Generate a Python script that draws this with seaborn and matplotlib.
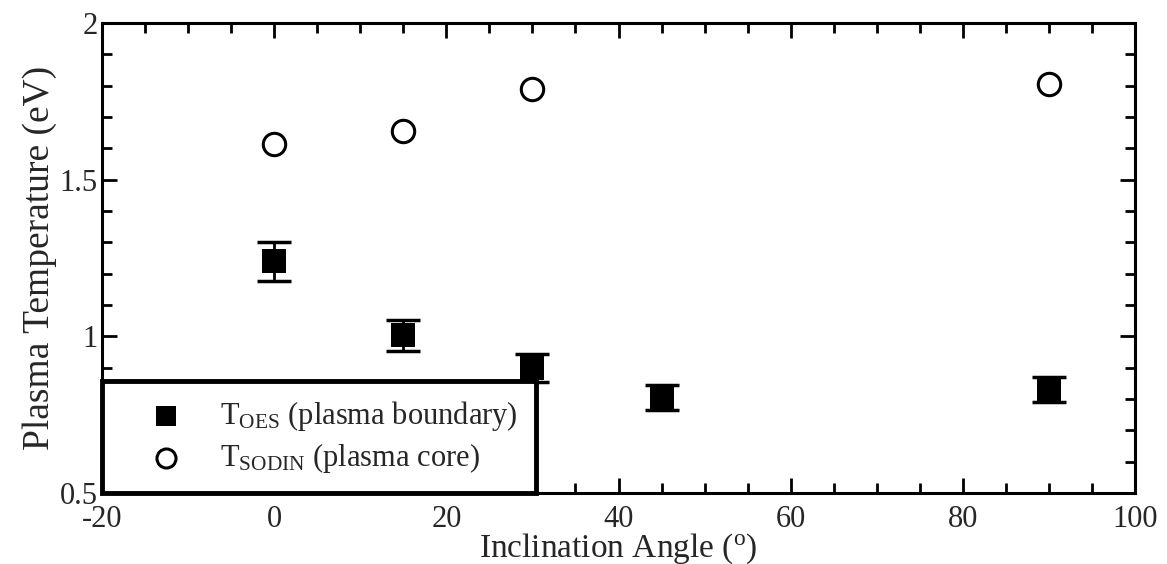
import matplotlib
matplotlib.use("Agg")
import matplotlib.pyplot as plt
import seaborn as sns
import pandas as pd
from matplotlib.ticker import MultipleLocator

# Data
oes_angle = [0, 15, 30, 45, 90]
oes_temp = [1.24, 1.003, 0.90, 0.805, 0.83]
oes_err = [0.062, 0.049, 0.045, 0.04, 0.04]
sodin_angle = [0, 15, 30, 90]
sodin_temp = [1.615, 1.655, 1.79, 1.805]

oes_label = r"T$_{\rm OES}$ (plasma boundary)"
sodin_label = r"T$_{\rm SODIN}$ (plasma core)"
x_label = r"Inclination Angle ($^{\rm o}$)"
y_label = "Plasma Temperature (eV)"
y_ticks = [0.5, 1, 1.5, 2]
y_ticklabels = ["0.5", "1", "1.5", "2"]

sns.set_style("ticks")
plt.rcParams["font.family"] = ["Liberation Serif", "DejaVu Serif"]
plt.rcParams["mathtext.fontset"] = "custom"
plt.rcParams["mathtext.rm"] = "Liberation Serif"
plt.rcParams["mathtext.it"] = "Liberation Serif:italic"
plt.rcParams["axes.unicode_minus"] = False

fig = plt.figure(figsize=(11.67, 5.64), dpi=100)
ax = fig.add_axes([0.0874, 0.1259, 0.9726 - 0.0874, 0.9592 - 0.1259])

df_oes = pd.DataFrame({"angle": oes_angle, "temp": oes_temp})
df_sod = pd.DataFrame({"angle": sodin_angle, "temp": sodin_temp})

ax.errorbar(oes_angle, oes_temp, yerr=oes_err, fmt="none", ecolor="black",
            elinewidth=2, capsize=12, capthick=2.5, zorder=2)
sns.scatterplot(data=df_oes, x="angle", y="temp", marker="s", s=300,
                color="black", edgecolor="black", linewidth=0, ax=ax,
                label=oes_label, zorder=3)
sns.scatterplot(data=df_sod, x="angle", y="temp", marker="o", s=260,
                facecolor="white", edgecolor="black", linewidth=2.2, ax=ax,
                label=sodin_label, zorder=3)

ax.set_xlim(-20, 100)
ax.set_ylim(0.5, 2)
ax.xaxis.set_major_locator(MultipleLocator(20))
ax.xaxis.set_minor_locator(MultipleLocator(5))
ax.yaxis.set_minor_locator(MultipleLocator(0.1))
ax.set_yticks(y_ticks)
ax.set_yticklabels(y_ticklabels)
for t in ax.get_yticklabels():
    t.set_verticalalignment("center_baseline")

ax.tick_params(which="both", direction="in", top=True, right=True,
               color="black", labelsize=22)
ax.tick_params(axis="y", pad=3)
ax.tick_params(axis="x", pad=9)
ax.tick_params(which="major", length=11, width=2)
ax.tick_params(which="minor", length=7, width=2)
for sp in ax.spines.values():
    sp.set_linewidth(2.2)
    sp.set_color("black")
    sp.set_visible(True)

ax.set_xlabel(x_label, fontsize=24, labelpad=-2)
ax.set_ylabel(y_label, fontsize=27, labelpad=2)

leg = ax.legend(loc="lower left", bbox_to_anchor=(0, 0), borderaxespad=0,
                fontsize=22, frameon=True, fancybox=False, framealpha=1,
                edgecolor="black", handletextpad=0.25, borderpad=0.6,
                handlelength=3.0, labelspacing=0.25, markerscale=0.85)
leg.get_frame().set_linewidth(3.5)
leg.set_zorder(2.5)

fig.savefig("out.png", dpi=100)
